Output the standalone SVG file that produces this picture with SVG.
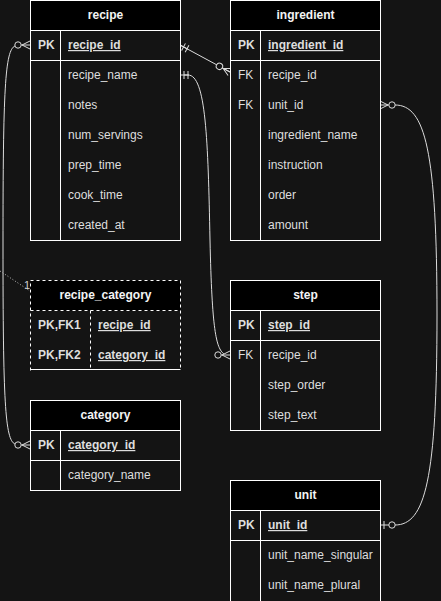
<svg xmlns="http://www.w3.org/2000/svg" xmlns:xlink="http://www.w3.org/1999/xlink" width="441" height="601" viewBox="0 0 441 601">
<style>
.bg{fill:#141414}
.body{fill:#141414;stroke:#ffffff;stroke-width:1}
.hdr{fill:#000000;stroke:#ffffff;stroke-width:1}
.ln{stroke:#ffffff;stroke-width:1;fill:none}
.dash{stroke-dasharray:3 3}
.t{font-family:"Liberation Sans",Arial,Helvetica,sans-serif;font-size:12px;fill:#dedede}
.h{font-weight:bold;fill:#f4f4f4;text-anchor:middle}
.k{font-weight:bold}
.u{text-decoration:underline}
.c{stroke:#dcdcdc;stroke-width:1;fill:none}
.mk{stroke:#dcdcdc;stroke-width:1;fill:none}
.mk circle{fill:#141414}
.dot{stroke:#bdbdbd;stroke-width:1;stroke-dasharray:1 2;fill:none}
.lbl{font-family:"Liberation Sans",Arial,Helvetica,sans-serif;font-size:11px;fill:#d0d0d0}
</style>
<defs>
<g id="zmany" class="mk"><path d="M0,-4 L8,0 M0,4 L8,0 M0,0 H9"/><circle cx="12" cy="0" r="3.2"/></g>
<g id="mone" class="mk"><path d="M4,-4 V4 M8,-4 V4 M0,0 H9"/></g>
<g id="zone" class="mk"><path d="M4,-4 V4 M0,0 H9"/><circle cx="12" cy="0" r="3.2"/></g>
</defs>
<rect class="bg" x="0" y="0" width="441" height="601"/>

<g id="connectors">
<path class="c" d="M180,45 L230,72"/>
<use xlink:href="#mone" transform="translate(180,45) rotate(28.37)"/>
<use xlink:href="#zmany" transform="translate(230,72) rotate(208.37)"/>

<path class="c" d="M184,75 H188 C206,75 208,140 210,240 C212,330 216,348 224,354"/>
<use xlink:href="#mone" transform="translate(180,75)"/>
<use xlink:href="#zmany" transform="translate(230,355) scale(-1,1)"/>

<path class="c" d="M15,46 C5,50 3,90 3,245 C3,400 5,440 15,444"/>
<use xlink:href="#zmany" transform="translate(30,45) scale(-1,1)"/>
<use xlink:href="#zmany" transform="translate(30,445) scale(-1,1)"/>

<path class="c" d="M395,105 C425,105 437,150 437,315 C437,480 425,525 395,525"/>
<use xlink:href="#zmany" transform="translate(380,105)"/>
<use xlink:href="#zone" transform="translate(380,525)"/>

<path class="dot" d="M0,271 L30,291"/>
<text class="lbl" x="24" y="289">1</text>
</g>

<g id="recipe">
<rect class="body" x="30.5" y="0.5" width="150" height="240"/>
<rect class="hdr" x="30.5" y="0.5" width="150" height="30"/>
<path class="ln" d="M30.5,60.5 H180.5 M60.5,30.5 V240.5"/>
<text class="t h" x="105.5" y="19">recipe</text>
<text class="t k" x="38" y="49">PK</text>
<text class="t k u" x="68" y="49">recipe_id</text>
<text class="t" x="68" y="79">recipe_name</text>
<text class="t" x="68" y="109">notes</text>
<text class="t" x="68" y="139">num_servings</text>
<text class="t" x="68" y="169">prep_time</text>
<text class="t" x="68" y="199">cook_time</text>
<text class="t" x="68" y="229">created_at</text>
</g>

<g id="ingredient">
<rect class="body" x="230.5" y="0.5" width="150" height="240"/>
<rect class="hdr" x="230.5" y="0.5" width="150" height="30"/>
<path class="ln" d="M230.5,60.5 H380.5 M260.5,30.5 V240.5"/>
<text class="t h" x="305.5" y="19">ingredient</text>
<text class="t k" x="238" y="49">PK</text>
<text class="t k u" x="268" y="49">ingredient_id</text>
<text class="t" x="238" y="79">FK</text>
<text class="t" x="268" y="79">recipe_id</text>
<text class="t" x="238" y="109">FK</text>
<text class="t" x="268" y="109">unit_id</text>
<text class="t" x="268" y="139">ingredient_name</text>
<text class="t" x="268" y="169">instruction</text>
<text class="t" x="268" y="199">order</text>
<text class="t" x="268" y="229">amount</text>
</g>

<g id="recipe_category">
<rect x="30.5" y="280.5" width="150" height="90" fill="#141414"/>
<rect x="30.5" y="280.5" width="150" height="30" fill="#000000"/>
<path class="ln dash" d="M30.5,370.5 V280.5 H180.5 V370.5 M30.5,310.5 H180.5 M90.5,310.5 V370.5"/>
<path class="ln" d="M30.5,369.5 H180.5"/>
<text class="t h" x="105.5" y="299">recipe_category</text>
<text class="t k" x="38" y="329">PK,FK1</text>
<text class="t k u" x="98" y="329">recipe_id</text>
<text class="t k" x="38" y="359">PK,FK2</text>
<text class="t k u" x="98" y="359">category_id</text>
</g>

<g id="category">
<rect class="body" x="30.5" y="400.5" width="150" height="90"/>
<rect class="hdr" x="30.5" y="400.5" width="150" height="30"/>
<path class="ln" d="M30.5,460.5 H180.5 M60.5,430.5 V490.5"/>
<text class="t h" x="105.5" y="419">category</text>
<text class="t k" x="38" y="449">PK</text>
<text class="t k u" x="68" y="449">category_id</text>
<text class="t" x="68" y="479">category_name</text>
</g>

<g id="step">
<rect class="body" x="230.5" y="280.5" width="150" height="150"/>
<rect class="hdr" x="230.5" y="280.5" width="150" height="30"/>
<path class="ln" d="M230.5,340.5 H380.5 M260.5,310.5 V430.5"/>
<text class="t h" x="305.5" y="299">step</text>
<text class="t k" x="238" y="329">PK</text>
<text class="t k u" x="268" y="329">step_id</text>
<text class="t" x="238" y="359">FK</text>
<text class="t" x="268" y="359">recipe_id</text>
<text class="t" x="268" y="389">step_order</text>
<text class="t" x="268" y="419">step_text</text>
</g>

<g id="unit">
<rect class="body" x="230.5" y="480.5" width="150" height="150"/>
<rect class="hdr" x="230.5" y="480.5" width="150" height="30"/>
<path class="ln" d="M230.5,540.5 H380.5 M260.5,510.5 V630.5"/>
<text class="t h" x="305.5" y="499">unit</text>
<text class="t k" x="238" y="529">PK</text>
<text class="t k u" x="268" y="529">unit_id</text>
<text class="t" x="268" y="559">unit_name_singular</text>
<text class="t" x="268" y="589">unit_name_plural</text>
</g>
</svg>
